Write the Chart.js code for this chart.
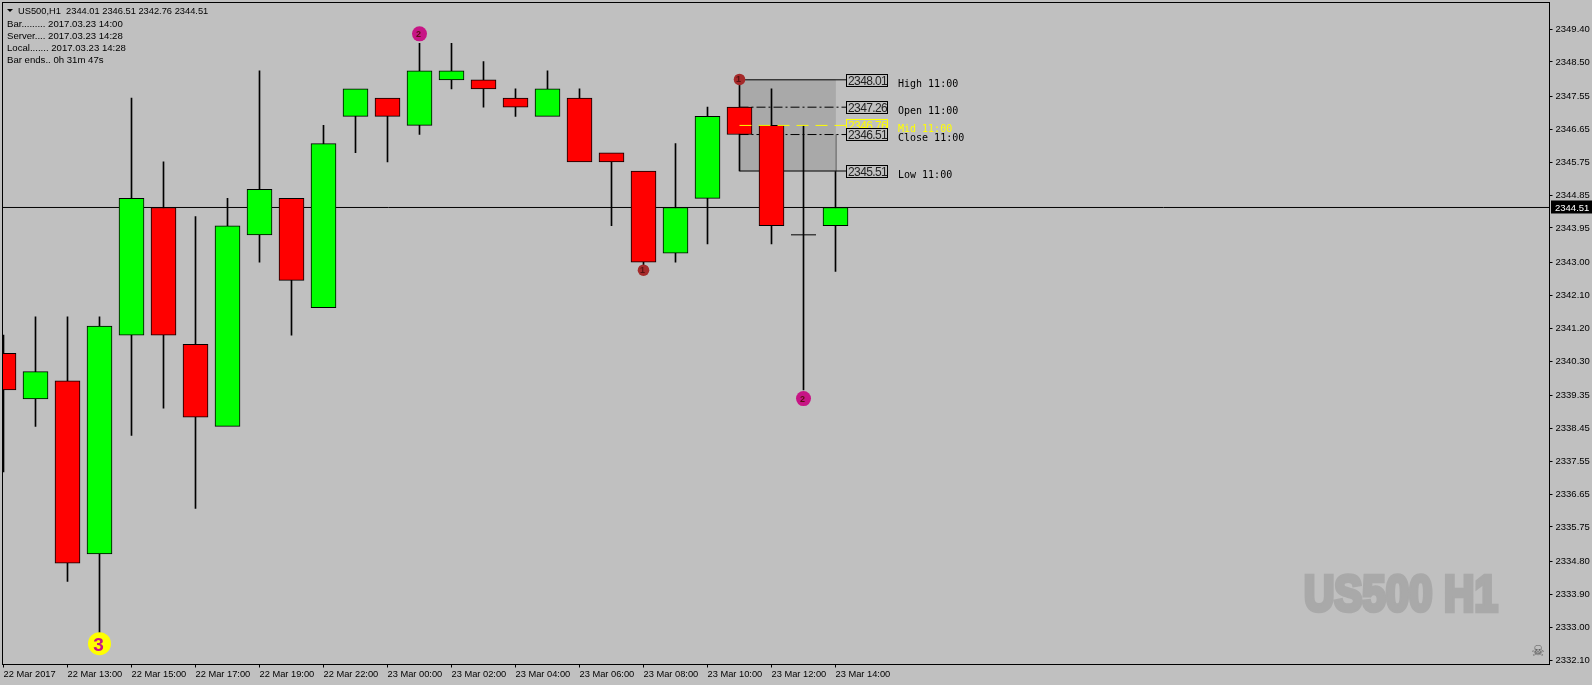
<!DOCTYPE html>
<html>
<head>
<meta charset="utf-8">
<title>US500,H1</title>
<script src="https://cdn.jsdelivr.net/npm/chart.js@4/dist/chart.umd.min.js"></script>
<style>
  html, body { margin: 0; padding: 0; background: #c0c0c0; overflow: hidden; }
  canvas { display: block; }
</style>
</head>
<body>
<canvas id="chart" width="1592" height="685"></canvas>
<script>
// bars, oldest first (22 Mar 11:00 .. 23 Mar 14:00)
const opens  = [2340.51, 2339.26, 2339.76, 2335.01, 2341.01, 2344.51, 2340.76, 2338.51, 2343.76, 2344.76, 2341.76, 2347.01, 2347.51, 2346.76, 2348.01, 2348.01, 2347.51, 2347.01, 2347.51, 2346.01, 2345.51, 2343.26, 2344.76, 2347.26, 2346.76, 2343.76, 2344.01];
const highs  = [2341.01, 2341.51, 2341.51, 2341.51, 2347.51, 2345.76, 2344.26, 2344.76, 2348.26, 2344.76, 2346.76, 2347.76, 2347.51, 2349.01, 2349.01, 2348.51, 2347.76, 2348.26, 2347.76, 2346.01, 2345.51, 2346.26, 2347.26, 2348.01, 2347.76, 2346.76, 2346.51];
const lows   = [2337.26, 2338.51, 2334.26, 2332.76, 2338.26, 2339.01, 2336.26, 2338.51, 2343.01, 2341.01, 2341.76, 2346.01, 2345.76, 2346.51, 2347.76, 2347.26, 2347.01, 2347.01, 2345.76, 2344.01, 2342.76, 2343.01, 2343.51, 2345.51, 2343.51, 2339.51, 2342.76];
const closes = [2339.51, 2340.01, 2334.76, 2341.26, 2344.76, 2341.01, 2338.76, 2344.01, 2345.01, 2342.51, 2346.26, 2347.76, 2347.01, 2348.26, 2348.26, 2347.76, 2347.26, 2347.76, 2345.76, 2345.76, 2343.01, 2344.51, 2347.01, 2346.51, 2344.01, 2343.76, 2344.51];

const yTicks = [2349.40, 2348.50, 2347.55, 2346.65, 2345.75, 2344.85, 2343.95, 2343.00, 2342.10, 2341.20, 2340.30, 2339.35, 2338.45, 2337.55, 2336.65, 2335.75, 2334.80, 2333.90, 2333.00, 2332.10];
const xTickBars = [0, 2, 4, 6, 8, 10, 12, 14, 16, 18, 20, 22, 24, 26];
const xTickLabels = ['22 Mar 2017', '22 Mar 13:00', '22 Mar 15:00', '22 Mar 17:00', '22 Mar 19:00', '22 Mar 22:00', '23 Mar 00:00', '23 Mar 02:00', '23 Mar 04:00', '23 Mar 06:00', '23 Mar 08:00', '23 Mar 10:00', '23 Mar 12:00', '23 Mar 14:00'];

const bid = 2344.51;

// levels of the 11:00 bar
const levelNames = ['High', 'Open', 'Mid', 'Close', 'Low'];
const levelPrices = [2348.01, 2347.26, 2346.76, 2346.51, 2345.51];

// fractal marks
const markBars = [3, 13, 20, 23, 25];
const markPrices = [2332.55, 2349.27, 2342.79, 2348.02, 2339.27];
const markDigits = ['3', '2', '1', '1', '2'];

const headerText = 'US500,H1  2344.01 2346.51 2342.76 2344.51';
const infoLines = ['Bar......... 2017.03.23 14:00', 'Server.... 2017.03.23 14:28', 'Local....... 2017.03.23 14:28', 'Bar ends.. 0h 31m 47s'];
const watermark = 'US500 H1';

const UP = '#00ff00', DOWN = '#ff0000', BLACK = '#000000';
const SANS = '"Liberation Sans", Arial, sans-serif';
const MONO = '"DejaVu Sans Mono", monospace';

const lastBar = opens.length - 1;
const barIndex = opens.map((o, i) => i);
const isDoji = i => opens[i] === closes[i];

// wick stops a bit inside the body when it has no shadow on that side, so no dot pokes out
function wickRange(i) {
  const top = Math.max(opens[i], closes[i]);
  const bot = Math.min(opens[i], closes[i]);
  return [lows[i] === bot ? bot + 0.05 : lows[i], highs[i] === top ? top - 0.05 : highs[i]];
}

const wickData = barIndex.filter(i => i !== lastBar).map(i => ({ x: i, y: wickRange(i) }));
const bodyData = barIndex.filter(i => !isDoji(i)).map(i => ({ x: i, y: [opens[i], closes[i]] }));
const dojiData = barIndex.filter(isDoji).map(i => ({ x: i, y: closes[i] }));

function levelLine(idx, color, dash, order) {
  return {
    type: 'line',
    data: [{ x: 23, y: levelPrices[idx] }, { x: 26.33, y: levelPrices[idx] }],
    borderColor: color, borderWidth: 1, borderDash: dash, pointRadius: 0, order: order
  };
}

const overlay = {
  id: 'overlay',
  afterDatasetsDraw(chart) {
    const ctx = chart.ctx;
    const y = chart.scales.y;
    const a = chart.chartArea;
    ctx.save();
    ctx.textBaseline = 'alphabetic';

    // digits on the marks
    const xs = chart.scales.x;
    markBars.forEach((b, i) => {
      const big = markDigits[i] === '3';
      ctx.font = (big ? 'bold 19px ' : 'bold 9px ') + SANS;
      ctx.fillStyle = big ? '#c71585' : '#5a1010';
      ctx.textAlign = 'center';
      ctx.fillText(markDigits[i], xs.getPixelForValue(b) - 1, y.getPixelForValue(markPrices[i]) + (big ? 7 : 3));
    });

    // price boxes and names of the levels
    const drawOrder = [2, 0, 1, 3, 4];
    drawOrder.forEach(i => {
      const py = Math.floor(y.getPixelForValue(levelPrices[i]) + 0.2) + 0.5;
      const color = levelNames[i] === 'Mid' ? '#ffff00' : BLACK;
      ctx.fillStyle = '#c0c0c0';
      ctx.fillRect(846.5, py - 6, 41, 12);
      ctx.strokeStyle = color;
      ctx.lineWidth = 1;
      ctx.strokeRect(846.5, py - 6, 41, 12);
      ctx.font = '12px ' + SANS;
      ctx.letterSpacing = '-0.6px';
      ctx.textAlign = 'left';
      ctx.fillStyle = levelNames[i] === 'Mid' ? '#ffff00' : '#222222';
      ctx.fillText(levelPrices[i].toFixed(2), 848, py + 4.5);
      ctx.letterSpacing = '0px';
      ctx.font = '10px ' + MONO;
      ctx.fillStyle = color;
      ctx.fillText(levelNames[i] + ' 11:00', 898, py + 6.5);
    });

    // frame
    ctx.strokeStyle = BLACK;
    ctx.lineWidth = 1;
    ctx.strokeRect(a.left, a.top, a.right - a.left, a.bottom - a.top);

    // bid label on the price axis
    const bidY = Math.round(y.getPixelForValue(bid) - 0.5) + 0.5;
    ctx.fillStyle = BLACK;
    ctx.fillRect(1551, bidY - 7, 41, 13);
    ctx.fillStyle = '#ffffff';
    ctx.font = '9.5px ' + SANS;
    ctx.fillText(bid.toFixed(2), 1555, bidY + 3);

    // header
    ctx.fillStyle = BLACK;
    ctx.beginPath();
    ctx.moveTo(7, 9);
    ctx.lineTo(13, 9);
    ctx.lineTo(10, 12);
    ctx.closePath();
    ctx.fill();
    ctx.font = '9.3px ' + SANS;
    ctx.fillText(headerText, 18, 14);
    ctx.font = '9.6px ' + SANS;
    infoLines.forEach((t, i) => ctx.fillText(t, 7, 27 + i * 12));

    // watermark, squeezed and thickened because no Impact is installed
    ctx.save();
    ctx.translate(1304, 611);
    ctx.scale(0.84, 1);
    ctx.font = 'bold 50px ' + SANS;
    ctx.fillStyle = '#a9a9a9';
    ctx.strokeStyle = '#a9a9a9';
    ctx.lineWidth = 4.5;
    ctx.strokeText(watermark, 0, 0);
    ctx.fillText(watermark, 0, 0);
    ctx.restore();

    ctx.font = '15px "DejaVu Sans"';
    ctx.fillStyle = '#555555';
    ctx.textAlign = 'center';
    ctx.fillText('\u2620', 1538, 656);

    ctx.restore();
  }
};

new Chart(document.getElementById('chart'), {
  type: 'bar',
  data: {
    datasets: [
      {
        type: 'line',
        data: [{ x: -1, y: bid }, { x: 49, y: bid }],
        borderColor: BLACK, borderWidth: 1, pointRadius: 0, order: 10
      },
      // last wick goes under the box, its top part is not seen in the reference
      {
        data: [{ x: lastBar, y: [lows[lastBar], highs[lastBar]] }],
        backgroundColor: BLACK, borderWidth: 0, barThickness: 1, grouped: false, order: 9
      },
      {
        data: [{ x: 24.5, y: [levelPrices[4], levelPrices[0]] }],
        backgroundColor: '#a9a9a9', borderWidth: 0, barThickness: 96, grouped: false, order: 8
      },
      levelLine(0, BLACK, [], 7),
      levelLine(1, BLACK, [9, 3, 2, 3], 7),
      levelLine(3, BLACK, [9, 3, 2, 3], 7),
      levelLine(4, BLACK, [], 7),
      {
        data: wickData,
        backgroundColor: BLACK, borderWidth: 0, barThickness: 1, grouped: false, order: 6
      },
      {
        data: bodyData,
        backgroundColor: bodyData.map(d => d.y[1] > d.y[0] ? UP : DOWN),
        borderColor: BLACK, borderWidth: 1, borderSkipped: false, barThickness: 25, grouped: false, order: 5
      },
      {
        type: 'line',
        data: dojiData,
        showLine: false, pointStyle: 'line', pointRadius: 12.5, pointBorderWidth: 1, pointBorderColor: BLACK, order: 5
      },
      levelLine(2, '#ffff00', [12, 7], 4),
      {
        type: 'line',
        data: markBars.map((b, i) => ({ x: b, y: markPrices[i] })),
        showLine: false,
        pointRadius: [11.5, 7.5, 5.8, 5.8, 7.5],
        pointBorderWidth: 0,
        pointBackgroundColor: ['#ffff00', '#c71585', '#a52a2a', '#a52a2a', '#c71585'],
        order: 3
      }
    ]
  },
  options: {
    responsive: false,
    animation: false,
    layout: { autoPadding: false, padding: { left: 2.5, top: 2.5, right: 0, bottom: 0 } },
    plugins: { legend: { display: false }, tooltip: { enabled: false } },
    scales: {
      x: {
        type: 'linear',
        offset: false,
        min: -0.03125,
        max: 48.3125,
        grid: { offset: false, drawOnChartArea: false, tickLength: 3, tickColor: BLACK },
        border: { color: BLACK },
        afterBuildTicks(scale) { scale.ticks = xTickBars.map(v => ({ value: v })); },
        afterFit(scale) {
          scale.height = 20.5;
          scale.paddingLeft = scale.paddingRight = scale.paddingTop = scale.paddingBottom = 0;
        },
        ticks: {
          autoSkip: false, maxRotation: 0, align: 'start', padding: 1,
          color: BLACK, font: { family: SANS, size: 9.3 },
          callback: v => xTickLabels[xTickBars.indexOf(v)]
        }
      },
      y: {
        position: 'right',
        min: 2331.98,
        max: 2350.13,
        grid: { drawOnChartArea: false, tickLength: 3, tickColor: BLACK },
        border: { color: BLACK },
        afterBuildTicks(scale) { scale.ticks = yTicks.map(v => ({ value: v })); },
        afterFit(scale) {
          scale.width = 42.5;
          scale.paddingLeft = scale.paddingRight = scale.paddingTop = scale.paddingBottom = 0;
        },
        ticks: {
          autoSkip: false, padding: 3,
          color: BLACK, font: { family: SANS, size: 9.5 },
          callback: v => v.toFixed(2)
        }
      }
    }
  },
  plugins: [overlay]
});
</script>
</body>
</html>
